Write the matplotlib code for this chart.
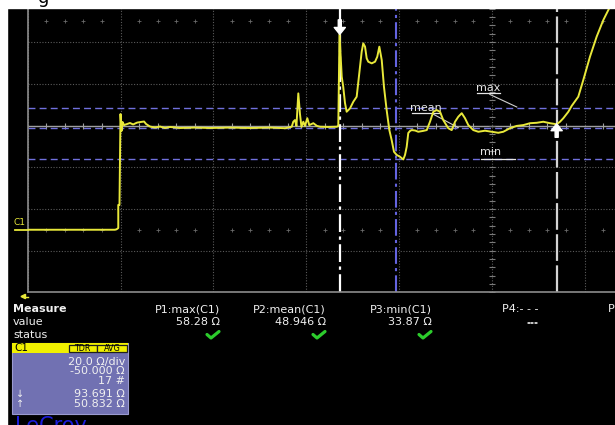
import numpy as np
import matplotlib.pyplot as plt
from matplotlib.patches import Rectangle

# C1 trace: time in divisions, impedance in ohm
t_c1 = [0.0, 0.94, 0.957, 0.976, 0.976, 0.989, 1.0, 1.011, 1.022, 1.038, 1.07, 1.102,
        1.136, 1.179, 1.221, 1.254, 1.276, 1.318, 1.372, 1.426, 1.479, 1.534, 1.642,
        1.804, 1.964, 2.18, 2.396, 2.611, 2.774, 2.845, 2.862, 2.88, 2.896, 2.916,
        2.934, 2.95, 2.97, 2.988, 3.013, 3.034, 3.078, 3.117, 3.15, 3.236, 3.33,
        3.347, 3.36, 3.384, 3.4, 3.419, 3.437, 3.455, 3.473, 3.509, 3.545, 3.573,
        3.599, 3.616, 3.635, 3.653, 3.67, 3.707, 3.743, 3.767, 3.789, 3.815, 3.839,
        3.868, 3.897, 3.922, 3.947, 3.976, 4.012, 4.047, 4.066, 4.084, 4.101, 4.12,
        4.138, 4.174, 4.209, 4.26, 4.3, 4.335, 4.371, 4.407, 4.443, 4.478, 4.532,
        4.569, 4.605, 4.64, 4.677, 4.712, 4.748, 4.802, 4.856, 4.928, 5.0, 5.071,
        5.125, 5.197, 5.269, 5.341, 5.413, 5.485, 5.556, 5.628, 5.7, 5.736, 5.772,
        5.826, 5.862, 5.933, 5.987, 6.059, 6.131, 6.203, 6.275, 6.34]
z_c1 = [0.0, 0.0, 0.2, 0.8, 11.9, 11.9, 55.5, 47.4, 51.7, 50.2, 50.7, 51.2,
        50.5, 51.4, 51.7, 51.9, 50.7, 49.5, 49.0, 49.5, 48.8, 49.3, 48.8,
        49.0, 48.8, 49.0, 48.8, 49.0, 48.7, 49.4, 51.8, 52.6, 49.8, 65.4,
        55.5, 49.3, 51.8, 49.8, 53.5, 50.2, 51.1, 49.8, 49.4, 49.3, 49.4,
        49.8, 93.7, 73.4, 68.6, 60.8, 56.6, 57.4, 58.2, 61.4, 63.8, 75.0,
        85.4, 89.4, 87.8, 82.2, 80.6, 79.8, 80.6, 83.0, 87.8, 81.4, 68.6,
        57.4, 47.8, 43.0, 37.4, 35.9, 35.0, 33.7, 35.9, 39.8, 46.4, 47.4,
        47.8, 47.6, 47.0, 47.4, 47.8, 51.8, 56.6, 57.4, 56.6, 52.6, 48.7,
        47.8, 51.8, 54.2, 55.9, 53.5, 50.2, 47.8, 47.0, 47.5, 47.0, 46.5,
        47.0, 48.7, 49.8, 50.2, 51.1, 51.3, 51.8, 51.1, 50.6, 51.8, 53.5,
        56.6, 59.4, 63.8, 71.8, 83.0, 92.6, 100.6, 107.0, 112.6]

# measurements
p_max, p_mean, p_min = 58.28, 48.946, 33.87
cur1_t, cur1_z = 3.363, 93.691
cur2_t, cur2_z = 5.70, 50.832
gate_t = 3.969
meas_names = ['P1:max(C1)', 'P2:mean(C1)', 'P3:min(C1)', 'P4:- - -', 'P5:- - -']
meas_vals = ['58.28 Ω', '48.946 Ω', '33.87 Ω', '---', '']
meas_ok = [True, True, True, False, False]
box_lines = ['20.0 Ω/div', '-50.000 Ω', '17 #', '93.691 Ω', '50.832 Ω']

fig = plt.figure(figsize=(6.15, 4.25), dpi=100, facecolor='black')

# scope grid: 10 x 8 div, 20 ohm/div, center 50 ohm (right/top run off screen)
ax = fig.add_axes([27.7/615, 132.7/425, 928/615, 333.6/425])
ax.set_facecolor('black')
ax.set_xlim(0, 10)
ax.set_ylim(-30, 130)
ax.set_xticks(np.arange(0, 11))
ax.set_yticks(np.arange(-30, 131, 20))
ax.tick_params(length=0, labelleft=False, labelbottom=False)
ax.grid(True, color='#5a5a5a', ls=(0, (1, 1.5)), lw=0.8)
for s in ['top', 'right']:
    ax.spines[s].set_visible(False)
for s in ['left', 'bottom']:
    ax.spines[s].set_color('#8c8c8c')
    ax.spines[s].set_linewidth(1.2)

minor = np.arange(0, 10.01, 0.2)
minor = minor[np.abs(minor - np.round(minor)) > 0.01]
for zz in [0, 100]:
    ax.plot(minor, np.full(len(minor), zz), '+', color='#6a6a6a', ms=2.5, mew=0.6)
ax.axhline(50, color='#a0a0a0', lw=1)
ax.plot(minor, np.full(len(minor), 50), '|', color='#a0a0a0', ms=4, mew=0.8)
yminor = np.arange(-30, 130.1, 4)
ax.plot(np.full(len(yminor), 5), yminor, '_', color='#7a7a7a', ms=4.5, mew=0.8)

# measurement levels
for lev in [p_max, p_mean, p_min]:
    ax.axhline(lev, color='#7070dc', ls=(0, (5, 3)), lw=1)

# cursors
ax.axvline(cur1_t, color='white', ls=(0, (8, 2, 1.5, 2)), lw=1.6)
ax.axvline(gate_t, color='#6464e0', ls=(0, (8, 2, 1.5, 2)), lw=1.5)
ax.axvline(cur2_t, color='#d4d4d4', ls=(0, (12, 2)), lw=1.6)

ax.plot(t_c1, z_c1, color='#e8e83a', lw=1.4, zorder=5)

ax.annotate('', xy=(cur1_t, cur1_z), xytext=(cur1_t, cur1_z + 7),
            arrowprops=dict(facecolor='white', edgecolor='white', width=2.2,
                            headwidth=8, headlength=5), zorder=6)
ax.annotate('', xy=(cur2_t, cur2_z), xytext=(cur2_t, cur2_z - 6.5),
            arrowprops=dict(facecolor='white', edgecolor='white', width=2.2,
                            headwidth=8, headlength=5), zorder=6)

lab = dict(color='#e6e6e6', fontsize=8, ha='center', va='center')
ax.text(4.963, 68.2, 'max', **lab)
ax.plot([4.838, 5.09], [65.4, 65.4], color='#e6e6e6', lw=0.9)
ax.plot([4.98, 5.27], [64.9, p_max + 0.6], color='#d0d0d0', lw=0.8)
ax.text(4.29, 58.6, 'mean', **lab)
ax.plot([4.138, 4.443], [55.85, 55.85], color='#e6e6e6', lw=0.9)
ax.plot([4.371, 4.64], [55.4, p_mean], color='#d0d0d0', lw=0.8)
ax.text(4.99, 37.5, 'min', **lab)
ax.plot([4.89, 5.25], [p_min, p_min], color='#e6e6e6', lw=0.9)

# overlay in screen pixels
ov = fig.add_axes([0, 0, 1, 1])
ov.set_xlim(0, 615)
ov.set_ylim(425, 0)
ov.axis('off')
ov.patch.set_visible(False)
ov.add_patch(Rectangle((0, 0), 615, 8, color='white'))
ov.add_patch(Rectangle((0, 0), 7, 425, color='white'))
ov.text(44, 2.5, 'g', color='black', fontsize=13, ha='center', va='baseline')

ov.text(13.5, 222.5, 'C1', color='#e8e83a', fontsize=6.5, va='center')
ov.plot([15, 28], [229.8, 229.8], color='#e8e83a', lw=1.3)
ov.fill([21, 25.5, 25.5], [296.5, 294.3, 298.7], color='#e8e83a')
ov.plot([25, 28], [296.5, 296.5], color='#e8e83a', lw=1)

txt = dict(color='#f0f0f0', fontsize=8, va='center')
ov.text(13, 309, 'Measure', fontweight='bold', **txt)
ov.text(13, 321.7, 'value', **txt)
ov.text(13, 335, 'status', **txt)
for i, (nm, vl, ok) in enumerate(zip(meas_names, meas_vals, meas_ok)):
    xr = 220 + 106 * i
    ov.text(xr, 309, nm, ha='right', **txt)
    ov.text(xr, 321.7, vl, ha='right', **txt)
    if ok:
        ov.plot([xr - 13, xr - 9, xr - 1], [334.5, 338, 331.5], color='#2ccc2c', lw=2.3,
                solid_capstyle='round', solid_joinstyle='round')
ov.text(538, 322.7, '---', ha='right', **txt)

# channel box
ov.add_patch(Rectangle((11.7, 343.3), 116.6, 70.7, facecolor='#7171b2',
                       edgecolor='#9a9ad0', lw=0.8))
ov.add_patch(Rectangle((11.7, 343.3), 116.6, 10, facecolor='#f0f000', edgecolor='none'))
ov.text(14, 348.3, 'C1', color='black', fontsize=7.5, va='center')
for x0, w, s in [(68.5, 28, 'TDR'), (96.9, 30, 'AVG')]:
    ov.add_patch(Rectangle((x0, 344.6), w, 7.6, facecolor='#f0f000',
                           edgecolor='#202020', lw=0.9))
    ov.text(x0 + w / 2, 348.6, s, color='black', fontsize=5.8, ha='center', va='center')
for s, yy in zip(box_lines, [361.7, 371.5, 381, 394, 404]):
    ov.text(125, yy, s, ha='right', **txt)
ov.text(16, 394, '↓', color='#f0f0f0', fontsize=7, va='center')
ov.text(16, 404, '↑', color='#f0f0f0', fontsize=7, va='center')

ov.text(15, 416.5, 'LeCroy', color='#1c1cdc', fontsize=15, va='top')

fig.savefig('out.png', dpi=100, facecolor='black')
